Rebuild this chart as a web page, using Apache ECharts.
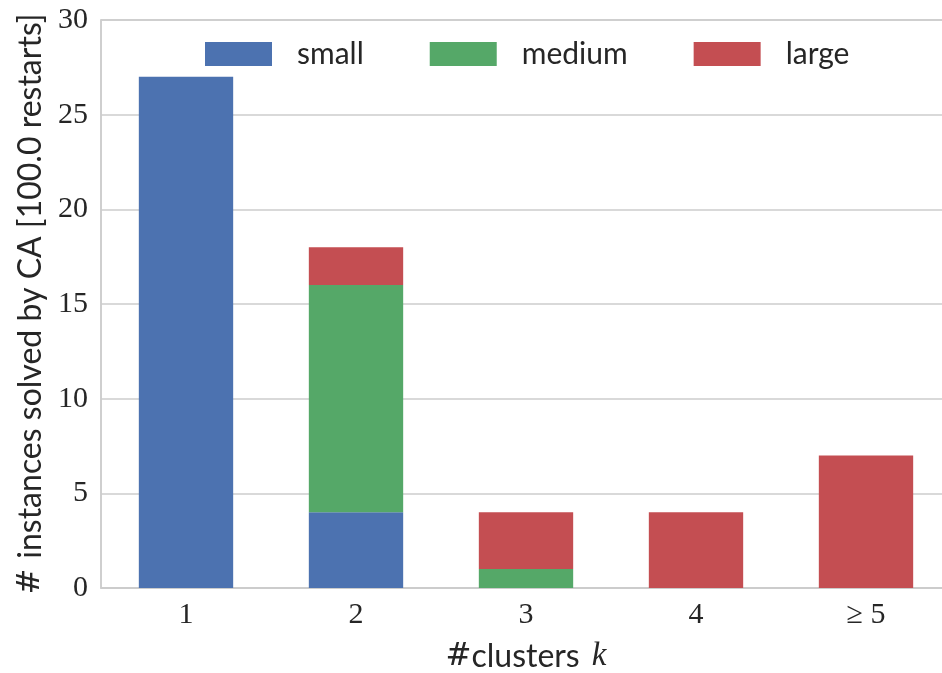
<!DOCTYPE html>
<html><head><meta charset="utf-8">
<script src="https://cdn.jsdelivr.net/npm/echarts@6/dist/echarts.min.js"></script>
<style>html,body{margin:0;padding:0;background:#fff;overflow:hidden}#c{width:942px;height:673px}</style>
</head><body><div id="c"></div>
<script>
const categories = ['1', '2', '3', '4', '≥ 5'];
const small = [27, 4, 0, 0, 0];
const medium = [0, 12, 1, 0, 0];
const large = [0, 2, 3, 4, 7];
const yTicks = [0, 5, 10, 15, 20, 25, 30];

const chart = echarts.init(document.getElementById('c'));
const serif = '"Liberation Serif", "DejaVu Serif", serif';
const hashFont = '"DejaVu Serif", serif';
const sans = 'Lato, "Open Sans", sans-serif';
const ink = '#262626';
function mk(name, data, color) {
  return { name, type: 'bar', stack: 's', data, barWidth: '55.5%',
    itemStyle: { color }, emphasis: { disabled: true } };
}
chart.setOption({
  animation: false,
  grid: { left: 101, right: -9, top: 20, bottom: 85, show: true, borderColor: '#cccccc', borderWidth: 1.5,
    outerBoundsMode: 'none', containLabel: false },
  legend: {
    left: 205, top: 39, padding: 0, itemWidth: 67, itemHeight: 24, itemGap: 66,
    icon: 'rect',
    textStyle: { fontFamily: sans, fontSize: 30, lineHeight: 24, color: ink, padding: [0, 0, 0, 20] },
    data: ['small', 'medium', 'large']
  },
  xAxis: {
    type: 'category', data: categories,
    axisLine: { lineStyle: { color: '#cccccc', width: 1.5 } },
    axisTick: { show: false },
    axisLabel: { fontFamily: serif, fontSize: 30, color: ink, margin: 12 },
    name: '{h|#}{a|clusters }{b|k}', nameLocation: 'middle', nameGap: 52,
    nameTextStyle: { rich: {
      h: { fontFamily: hashFont, fontSize: 31, color: ink },
      a: { fontFamily: sans, fontSize: 32, color: ink },
      b: { fontFamily: serif, fontStyle: 'italic', fontSize: 33, color: ink, padding: [0, 0, 0, 4] } } }
  },
  yAxis: {
    type: 'value', min: 0, max: 30, interval: 5,
    axisLine: { show: true, lineStyle: { color: '#cccccc', width: 1.5 } },
    splitLine: { lineStyle: { color: '#cccccc', width: 1.5 } },
    axisLabel: { fontFamily: serif, fontSize: 30, color: ink, margin: 13,
      formatter: v => yTicks.includes(v) ? String(v) : '' },
    name: '{h|# }{a|instances solved by CA [100.0 restarts]}', nameLocation: 'middle', nameGap: 51,
    nameTextStyle: { rich: {
      h: { fontFamily: hashFont, fontSize: 31, color: ink },
      a: { fontFamily: sans, fontSize: 32, color: ink } } }
  },
  series: [
    mk('small', small, '#4C72B0'),
    mk('medium', medium, '#55A868'),
    mk('large', large, '#C44E52')
  ]
});
</script></body></html>
